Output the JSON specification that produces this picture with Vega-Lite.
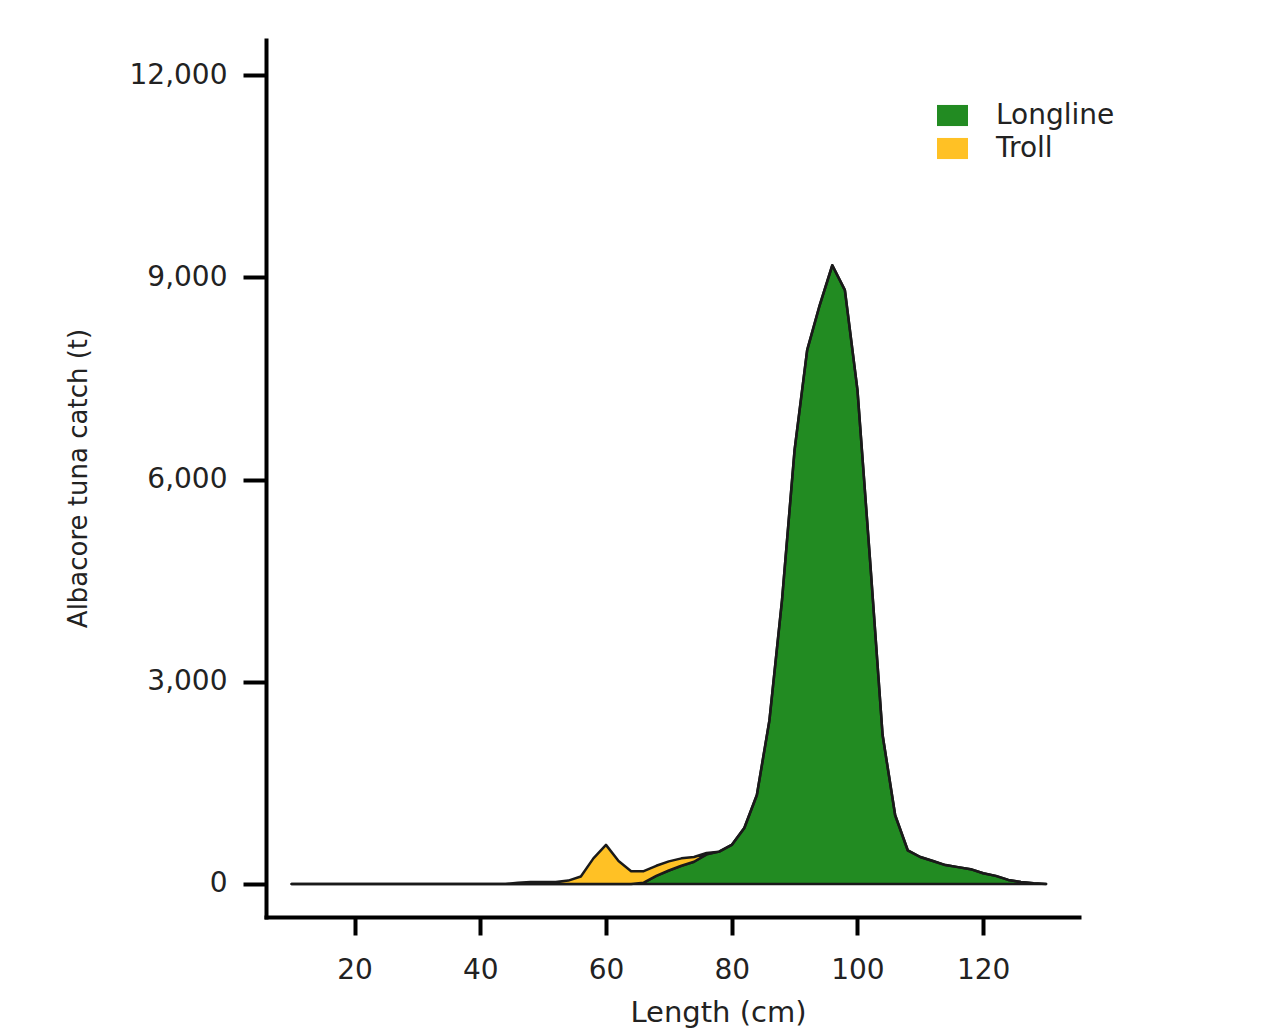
{
  "$schema": "https://vega.github.io/schema/vega-lite/v6.json",
  "width": 813,
  "height": 877,
  "autosize": {"type": "none"},
  "padding": {"left": 266, "top": 40, "right": 182, "bottom": 114},
  "background": "white",
  "config": {
    "view": {"stroke": null},
    "font": "DejaVu Sans",
    "axis": {"grid": false, "domainColor": "black", "domainWidth": 4, "tickColor": "black", "tickWidth": 4, "labelColor": "#222", "titleColor": "#222", "labelFont": "DejaVu Sans", "titleFont": "DejaVu Sans", "labelFontSize": 28, "titleFontWeight": "normal", "domainCap": "square"}
  },
  "data": {"values": [
    {"len":10,"gear":"Longline","catch":0},{"len":12,"gear":"Longline","catch":0},{"len":14,"gear":"Longline","catch":0},{"len":16,"gear":"Longline","catch":0},{"len":18,"gear":"Longline","catch":0},{"len":20,"gear":"Longline","catch":0},{"len":22,"gear":"Longline","catch":0},{"len":24,"gear":"Longline","catch":0},{"len":26,"gear":"Longline","catch":0},{"len":28,"gear":"Longline","catch":0},{"len":30,"gear":"Longline","catch":0},{"len":32,"gear":"Longline","catch":0},{"len":34,"gear":"Longline","catch":0},{"len":36,"gear":"Longline","catch":0},{"len":38,"gear":"Longline","catch":0},{"len":40,"gear":"Longline","catch":0},{"len":42,"gear":"Longline","catch":0},{"len":44,"gear":"Longline","catch":0},{"len":46,"gear":"Longline","catch":0},{"len":48,"gear":"Longline","catch":0},{"len":50,"gear":"Longline","catch":0},{"len":52,"gear":"Longline","catch":0},{"len":54,"gear":"Longline","catch":0},{"len":56,"gear":"Longline","catch":0},{"len":58,"gear":"Longline","catch":0},{"len":60,"gear":"Longline","catch":0},{"len":62,"gear":"Longline","catch":0},{"len":64,"gear":"Longline","catch":0},{"len":66,"gear":"Longline","catch":20},{"len":68,"gear":"Longline","catch":120},{"len":70,"gear":"Longline","catch":200},{"len":72,"gear":"Longline","catch":270},{"len":74,"gear":"Longline","catch":330},{"len":76,"gear":"Longline","catch":440},{"len":78,"gear":"Longline","catch":480},{"len":80,"gear":"Longline","catch":580},{"len":82,"gear":"Longline","catch":830},{"len":84,"gear":"Longline","catch":1320},{"len":86,"gear":"Longline","catch":2430},{"len":88,"gear":"Longline","catch":4210},{"len":90,"gear":"Longline","catch":6440},{"len":92,"gear":"Longline","catch":7920},{"len":94,"gear":"Longline","catch":8590},{"len":96,"gear":"Longline","catch":9180},{"len":98,"gear":"Longline","catch":8810},{"len":100,"gear":"Longline","catch":7330},{"len":102,"gear":"Longline","catch":4810},{"len":104,"gear":"Longline","catch":2210},{"len":106,"gear":"Longline","catch":1020},{"len":108,"gear":"Longline","catch":500},{"len":110,"gear":"Longline","catch":400},{"len":112,"gear":"Longline","catch":340},{"len":114,"gear":"Longline","catch":280},{"len":116,"gear":"Longline","catch":250},{"len":118,"gear":"Longline","catch":220},{"len":120,"gear":"Longline","catch":160},{"len":122,"gear":"Longline","catch":120},{"len":124,"gear":"Longline","catch":60},{"len":126,"gear":"Longline","catch":30},{"len":128,"gear":"Longline","catch":10},{"len":130,"gear":"Longline","catch":0},
    {"len":10,"gear":"Troll","catch":0},{"len":12,"gear":"Troll","catch":0},{"len":14,"gear":"Troll","catch":0},{"len":16,"gear":"Troll","catch":0},{"len":18,"gear":"Troll","catch":0},{"len":20,"gear":"Troll","catch":0},{"len":22,"gear":"Troll","catch":0},{"len":24,"gear":"Troll","catch":0},{"len":26,"gear":"Troll","catch":0},{"len":28,"gear":"Troll","catch":0},{"len":30,"gear":"Troll","catch":0},{"len":32,"gear":"Troll","catch":0},{"len":34,"gear":"Troll","catch":0},{"len":36,"gear":"Troll","catch":0},{"len":38,"gear":"Troll","catch":0},{"len":40,"gear":"Troll","catch":0},{"len":42,"gear":"Troll","catch":0},{"len":44,"gear":"Troll","catch":0},{"len":46,"gear":"Troll","catch":20},{"len":48,"gear":"Troll","catch":30},{"len":50,"gear":"Troll","catch":30},{"len":52,"gear":"Troll","catch":30},{"len":54,"gear":"Troll","catch":50},{"len":56,"gear":"Troll","catch":110},{"len":58,"gear":"Troll","catch":380},{"len":60,"gear":"Troll","catch":580},{"len":62,"gear":"Troll","catch":340},{"len":64,"gear":"Troll","catch":190},{"len":66,"gear":"Troll","catch":170},{"len":68,"gear":"Troll","catch":150},{"len":70,"gear":"Troll","catch":135},{"len":72,"gear":"Troll","catch":110},{"len":74,"gear":"Troll","catch":70},{"len":76,"gear":"Troll","catch":20},{"len":78,"gear":"Troll","catch":0},{"len":80,"gear":"Troll","catch":0},{"len":82,"gear":"Troll","catch":0},{"len":84,"gear":"Troll","catch":0},{"len":86,"gear":"Troll","catch":0},{"len":88,"gear":"Troll","catch":0},{"len":90,"gear":"Troll","catch":0},{"len":92,"gear":"Troll","catch":0},{"len":94,"gear":"Troll","catch":0},{"len":96,"gear":"Troll","catch":0},{"len":98,"gear":"Troll","catch":0},{"len":100,"gear":"Troll","catch":0},{"len":102,"gear":"Troll","catch":0},{"len":104,"gear":"Troll","catch":0},{"len":106,"gear":"Troll","catch":0},{"len":108,"gear":"Troll","catch":0},{"len":110,"gear":"Troll","catch":0},{"len":112,"gear":"Troll","catch":0},{"len":114,"gear":"Troll","catch":0},{"len":116,"gear":"Troll","catch":0},{"len":118,"gear":"Troll","catch":0},{"len":120,"gear":"Troll","catch":0},{"len":122,"gear":"Troll","catch":0},{"len":124,"gear":"Troll","catch":0},{"len":126,"gear":"Troll","catch":0},{"len":128,"gear":"Troll","catch":0},{"len":130,"gear":"Troll","catch":0}
  ]},
  "mark": {"type": "area", "stroke": "#1a1a1a", "strokeWidth": 2.5, "strokeJoin": "round"},
  "encoding": {
    "x": {
      "field": "len", "type": "quantitative",
      "scale": {"domain": [5.92, 135.24], "nice": false, "zero": false},
      "axis": {"title": "Length (cm)", "values": [20, 40, 60, 80, 100, 120], "tickSize": 18, "labelPadding": 21, "titleFontSize": 29, "titleX": 452, "titleY": 104, "titleBaseline": "alphabetic", "titleAnchor": null}
    },
    "y": {
      "field": "catch", "type": "quantitative", "stack": "zero",
      "scale": {"domain": [-490, 12522], "nice": false, "zero": false},
      "axis": {"title": "Albacore tuna catch (t)", "values": [0, 3000, 6000, 9000, 12000], "format": ",d", "tickSize": 23, "labelPadding": 16, "titleFontSize": 26, "titleX": -188, "titleY": 438, "titleAngle": -90, "titleBaseline": "middle", "titleAlign": "center"}
    },
    "color": {
      "field": "gear", "type": "nominal",
      "scale": {"domain": ["Longline", "Troll"], "range": ["#228B22", "#FFC125"]},
      "legend": {"title": null, "orient": "none", "legendX": 671, "legendY": 60, "symbolType": "M-1,-0.68H1V0.68H-1Z", "symbolSize": 961, "symbolStrokeWidth": 0, "symbolOpacity": 1, "labelFontSize": 28, "labelFont": "DejaVu Sans", "labelColor": "#222", "labelOffset": 28, "rowPadding": 3}
    },
    "order": {"field": "gear"}
  }
}
